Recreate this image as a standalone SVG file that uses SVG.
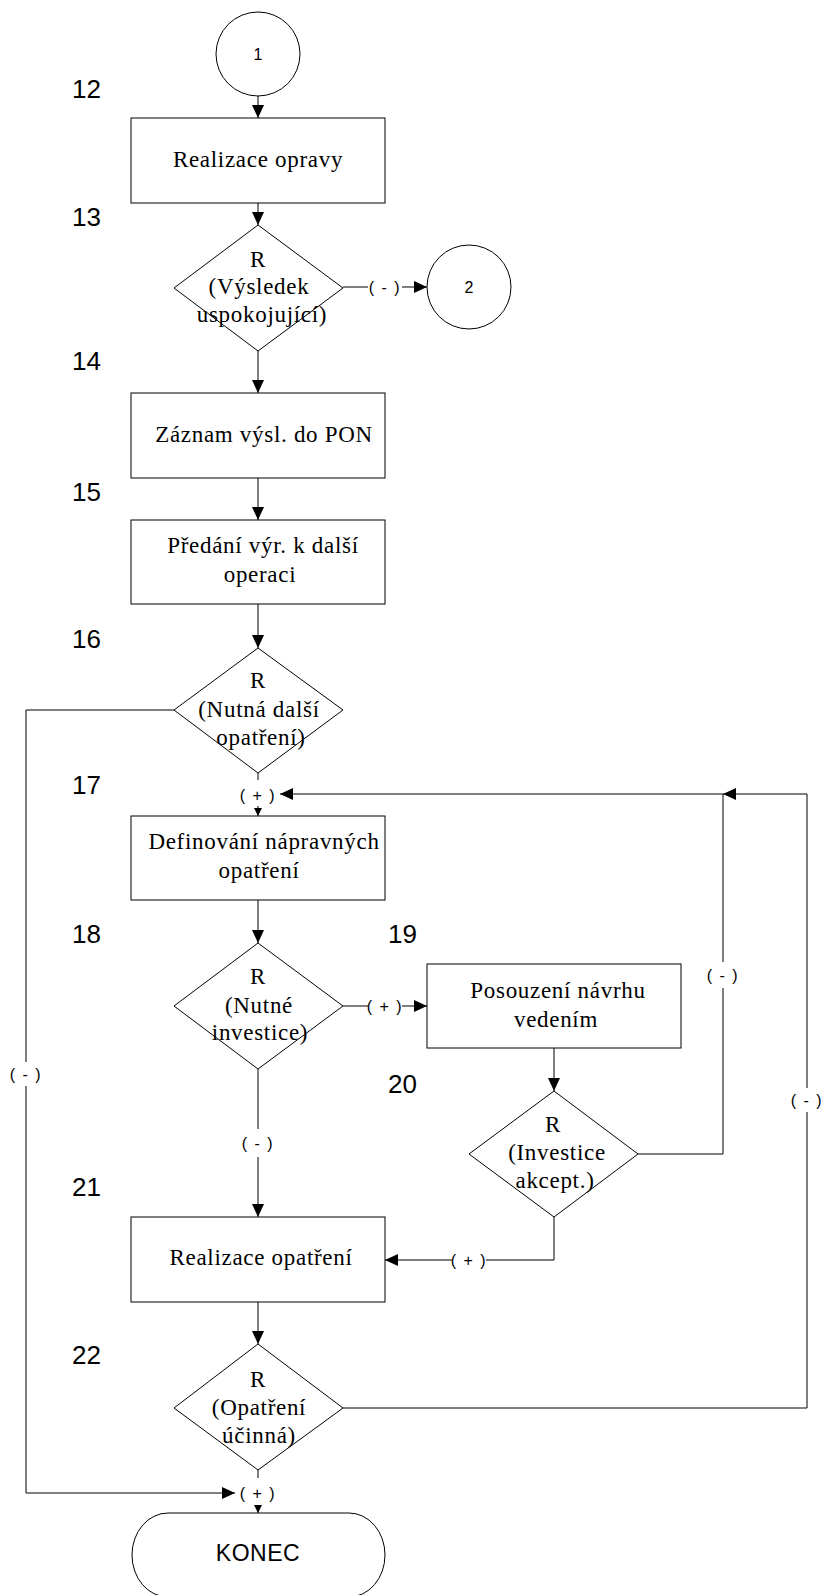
<svg xmlns="http://www.w3.org/2000/svg" width="824" height="1595" viewBox="0 0 824 1595">
  <style>
    .shape { fill: #fff; stroke: #000; stroke-width: 1; }
    .line { fill: none; stroke: #000; stroke-width: 1; }
    .box { font-family: "Liberation Serif", "Times New Roman", serif; font-size: 23px; letter-spacing: 0.7px; text-anchor: middle; fill: #000; }
    .num { font-family: "Liberation Sans", Arial, sans-serif; font-size: 26px; fill: #000; }
    .cond { font-family: "Liberation Sans", Arial, sans-serif; font-size: 16px; letter-spacing: 1.5px; text-anchor: middle; dominant-baseline: central; fill: #000; }
    .conn { font-family: "Liberation Sans", Arial, sans-serif; font-size: 16px; text-anchor: middle; fill: #000; }
    .term { font-family: "Liberation Sans", Arial, sans-serif; font-size: 23px; letter-spacing: 0.5px; text-anchor: middle; fill: #000; }
  </style>
  <defs>
    <marker id="arrow" markerUnits="userSpaceOnUse" markerWidth="13" markerHeight="12" refX="13" refY="6" orient="auto">
      <path d="M0,0 L13,6 L0,12 z" fill="#000"/>
    </marker>
    <marker id="arrowSmall" markerUnits="userSpaceOnUse" markerWidth="8" markerHeight="8" refX="8" refY="4" orient="auto">
      <path d="M0,0 L8,4 L0,8 z" fill="#000"/>
    </marker>
  </defs>

  <rect width="824" height="1595" fill="#fff"/>

  <!-- step numbers -->
  <g id="step-numbers">
    <text class="num" x="72" y="98">12</text>
    <text class="num" x="72" y="226">13</text>
    <text class="num" x="72" y="370">14</text>
    <text class="num" x="72" y="501">15</text>
    <text class="num" x="72" y="648">16</text>
    <text class="num" x="72" y="794">17</text>
    <text class="num" x="72" y="943">18</text>
    <text class="num" x="388" y="943">19</text>
    <text class="num" x="388" y="1093">20</text>
    <text class="num" x="72" y="1196">21</text>
    <text class="num" x="72" y="1364">22</text>
  </g>

  <!-- connectors -->
  <g id="connectors">
    <line class="line" x1="258" y1="96" x2="258" y2="118" marker-end="url(#arrow)"/>
    <line class="line" x1="258" y1="203" x2="258" y2="225" marker-end="url(#arrow)"/>
    <line class="line" x1="343" y1="287" x2="368" y2="287"/>
    <text class="cond" x="385" y="287">( - )</text>
    <line class="line" x1="402" y1="287" x2="427" y2="287" marker-end="url(#arrow)"/>
    <line class="line" x1="258" y1="351" x2="258" y2="393" marker-end="url(#arrow)"/>
    <line class="line" x1="258" y1="478" x2="258" y2="520" marker-end="url(#arrow)"/>
    <line class="line" x1="258" y1="604" x2="258" y2="648" marker-end="url(#arrow)"/>

    <!-- 16 (+) down to 17 -->
    <line class="line" x1="258" y1="773" x2="258" y2="780"/>
    <text class="cond" x="258" y="795">( + )</text>
    <line class="line" x1="258" y1="806" x2="258" y2="816" marker-end="url(#arrowSmall)"/>

    <!-- 16 (-) to end -->
    <polyline class="line" points="174,710 26,710 26,1062"/>
    <text class="cond" x="26" y="1074">( - )</text>
    <polyline class="line" points="26,1086 26,1493 235,1493" marker-end="url(#arrow)"/>

    <line class="line" x1="258" y1="900" x2="258" y2="943" marker-end="url(#arrow)"/>

    <!-- 18 (+) to 19 -->
    <line class="line" x1="343" y1="1006" x2="368" y2="1006"/>
    <text class="cond" x="385" y="1006">( + )</text>
    <line class="line" x1="402" y1="1006" x2="427" y2="1006" marker-end="url(#arrow)"/>

    <!-- 18 (-) to 21 -->
    <line class="line" x1="258" y1="1069" x2="258" y2="1129"/>
    <text class="cond" x="258" y="1143">( - )</text>
    <line class="line" x1="258" y1="1157" x2="258" y2="1217" marker-end="url(#arrow)"/>

    <line class="line" x1="554" y1="1048" x2="554" y2="1091" marker-end="url(#arrow)"/>

    <!-- 20 (-) back to 17 -->
    <polyline class="line" points="638,1154 723,1154 723,988"/>
    <text class="cond" x="723" y="975">( - )</text>
    <polyline class="line" points="723,962 723,794 280,794" marker-end="url(#arrow)"/>

    <!-- 20 (+) to 21 -->
    <polyline class="line" points="554,1217 554,1260 486,1260"/>
    <text class="cond" x="469" y="1260">( + )</text>
    <line class="line" x1="452" y1="1260" x2="385" y2="1260" marker-end="url(#arrow)"/>

    <line class="line" x1="258" y1="1302" x2="258" y2="1344" marker-end="url(#arrow)"/>

    <!-- 22 (-) back to 17 -->
    <polyline class="line" points="343,1408 807,1408 807,1112"/>
    <text class="cond" x="807" y="1100">( - )</text>
    <polyline class="line" points="807,1088 807,794 723,794" marker-end="url(#arrow)"/>

    <!-- 22 (+) to end -->
    <line class="line" x1="258" y1="1470" x2="258" y2="1478"/>
    <text class="cond" x="258" y="1493">( + )</text>
    <line class="line" x1="258" y1="1505" x2="258" y2="1513" marker-end="url(#arrowSmall)"/>
  </g>

  <!-- nodes -->
  <g id="connector-1">
    <circle class="shape" cx="258" cy="54" r="42"/>
    <text class="conn" x="258" y="60">1</text>
  </g>

  <g id="node-12">
    <rect class="shape" x="131" y="118" width="254" height="85"/>
    <text class="box" x="258" y="167">Realizace opravy</text>
  </g>

  <g id="node-13">
    <polygon class="shape" points="258,225 343,288 258,351 174,288"/>
    <text class="box" x="258" y="267">R</text>
    <text class="box" x="259" y="294">(Výsledek</text>
    <text class="box" x="262" y="322">uspokojující)</text>
  </g>

  <g id="connector-2">
    <circle class="shape" cx="469" cy="287" r="42"/>
    <text class="conn" x="469" y="293">2</text>
  </g>

  <g id="node-14">
    <rect class="shape" x="131" y="393" width="254" height="85"/>
    <text class="box" x="264" y="442">Záznam výsl. do PON</text>
  </g>

  <g id="node-15">
    <rect class="shape" x="131" y="520" width="254" height="84"/>
    <text class="box" x="263" y="553">Předání výr. k další</text>
    <text class="box" x="260" y="582">operaci</text>
  </g>

  <g id="node-16">
    <polygon class="shape" points="258,648 343,710 258,773 174,710"/>
    <text class="box" x="258" y="688">R</text>
    <text class="box" x="259" y="717">(Nutná další</text>
    <text class="box" x="261" y="745">opatření)</text>
  </g>

  <g id="node-17">
    <rect class="shape" x="131" y="816" width="254" height="84"/>
    <text class="box" x="264" y="849">Definování nápravných</text>
    <text class="box" x="259" y="878">opatření</text>
  </g>

  <g id="node-18">
    <polygon class="shape" points="258,943 343,1006 258,1069 174,1006"/>
    <text class="box" x="258" y="984">R</text>
    <text class="box" x="259" y="1013">(Nutné</text>
    <text class="box" x="260" y="1040">investice)</text>
  </g>

  <g id="node-19">
    <rect class="shape" x="427" y="964" width="254" height="84"/>
    <text class="box" x="558" y="998">Posouzení návrhu</text>
    <text class="box" x="556" y="1027">vedením</text>
  </g>

  <g id="node-20">
    <polygon class="shape" points="554,1091 638,1154 554,1217 469,1154"/>
    <text class="box" x="553" y="1132">R</text>
    <text class="box" x="557" y="1160">(Investice</text>
    <text class="box" x="555" y="1188">akcept.)</text>
  </g>

  <g id="node-21">
    <rect class="shape" x="131" y="1217" width="254" height="85"/>
    <text class="box" x="261" y="1265">Realizace opatření</text>
  </g>

  <g id="node-22">
    <polygon class="shape" points="258,1344 343,1408 258,1470 174,1408"/>
    <text class="box" x="258" y="1387">R</text>
    <text class="box" x="259" y="1415">(Opatření</text>
    <text class="box" x="259" y="1443">účinná)</text>
  </g>

  <g id="node-end">
    <path class="shape" d="M168,1513 H349 A36,42 0 0 1 349,1597 H168 A36,42 0 0 1 168,1513 Z"/>
    <text class="term" x="258" y="1561">KONEC</text>
  </g>
</svg>
